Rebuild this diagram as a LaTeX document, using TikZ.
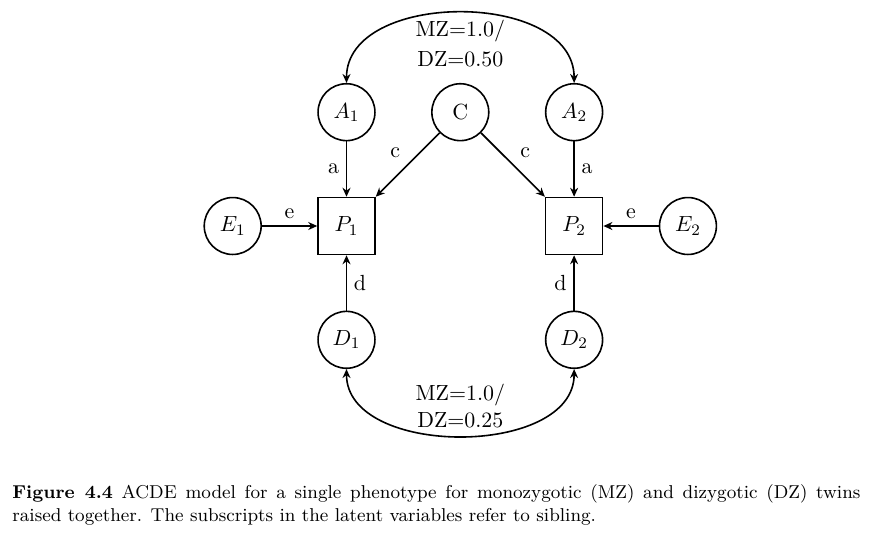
\documentclass[tikz,border=0pt]{standalone}
\usetikzlibrary{arrows.meta}
\begin{document}
\begin{tikzpicture}[
  font=\fontsize{10.95}{13.6}\selectfont,
  latent/.style={circle, draw, thick, minimum size=1cm, inner sep=0pt},
  observed/.style={rectangle, draw, thick, minimum size=1cm, inner sep=0pt},
  path/.style={thick, -{Stealth[length=4.5pt,width=4pt]}},
  cov/.style={thick, {Stealth[length=4.5pt,width=4pt]}-{Stealth[length=4.5pt,width=4pt]}},
  capfont/.style={font=\fontsize{9.3}{11.5}\selectfont}
]
\useasboundingbox (-173.25pt,-155.5pt) rectangle (267.25pt,113pt);
\node[latent] (A1) at (0,2) {$A_1$};
\node[latent] (C) at (2,2) {C};
\node[latent] (A2) at (4,2) {$A_2$};
\node[observed] (P1) at (0,0) {$P_1$};
\node[observed] (P2) at (4,0) {$P_2$};
\node[latent] (E1) at (-2,0) {$E_1$};
\node[latent] (E2) at (6,0) {$E_2$};
\node[latent] (D1) at (0,-2) {$D_1$};
\node[latent] (D2) at (4,-2) {$D_2$};

\draw[path] (A1) -- node[left] {a} (P1);
\draw[path] (A2) -- node[right] {a} (P2);
\draw[path] (C) -- node[above left] {c} (P1);
\draw[path] (C) -- node[above right] {c} (P2);
\draw[path] (E1) -- node[above] {e} (P1);
\draw[path] (E2) -- node[above] {e} (P2);
\draw[path] (D1) -- node[right] {d} (P1);
\draw[path] (D2) -- node[left] {d} (P2);

\draw[cov] (A1.north) to[out=90,in=90,looseness=1.05]
  node[below, align=center] {MZ=1.0/\\[1pt]DZ=0.50} (A2.north);
\draw[cov] (D1.south) to[out=-90,in=-90]
  node[above, align=center] {MZ=1.0/\\DZ=0.25} (D2.south);

\node[capfont, anchor=base west, inner sep=0pt] (cap1) at (-167.25pt,-136pt)
  {\makebox[424pt][s]{\textbf{Figure 4.4} ACDE model for a single phenotype for monozygotic (MZ) and dizygotic (DZ) twins}};
\node[capfont, anchor=base west, inner sep=0pt] (cap2) at (-167.25pt,-147.5pt)
  {raised together. The subscripts in the latent variables refer to sibling.};
\end{tikzpicture}
\end{document}
